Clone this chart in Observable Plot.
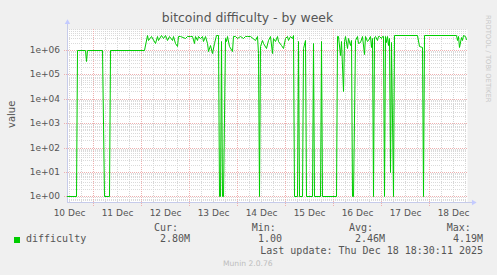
<!DOCTYPE html>
<html><head><meta charset="utf-8">
<script src="https://cdn.jsdelivr.net/npm/d3@7"></script>
<script src="https://cdn.jsdelivr.net/npm/@observablehq/plot@0.6"></script>
<style>
html,body{margin:0;padding:0;background:#f0f0f0;}
#chart{position:relative;width:497px;height:275px;background:#f0f0f0;overflow:hidden;}
#chart svg{position:absolute;left:0;top:0;}
.t{position:absolute;white-space:pre;margin:0;padding:0;}
.sans{font-family:"DejaVu Sans",sans-serif;}
.mono{font-family:"DejaVu Sans Mono",monospace;font-size:10px;line-height:10px;color:#555;}
</style></head><body><div id="chart"></div>
<script>
// hours since 10 Dec 00:00
const hours = [
 11,15.5,16,20,20.5,21,28.5,29.5,32,32.5,49.5,51,
 51.7,52.8,55,55.8,56.7,57.8,59.2,60,60.8,62,63.3,64.2,65,65.8,66.7,67.5,70,70.8,72.5,73.3,74.5,75.2,75.8,76.7,77.5,78.3,79.2,80,80.8,81.7,82.5,83.3,84.5,85.5,86.5,
 87,87.5,88.2,88.7,89.2,89.8,90.5,91.2,92.2,93.3,94.2,95,95.8,97.5,99.2,100,100.8,102.5,105,105.8,106.7,107.2,107.7,108.3,109.2,110.5,111.7,112.5,113.3,114.2,115,115.8,116.7,117.8,118.8,120,120.8,121.7,122.5,123.3,124.2,124.7,
 126,126.5,127,128.4,129,130,130.5,133.3,133.8,134.3,137.5,138,138.5,145.5,
 146,146.6,147.3,148.1,148.8,149.5,150.2,150.8,151.6,152.3,152.8,153.3,154.2,
 154.8,155.8,156.7,157.5,158.3,159.5,160.2,160.8,161.7,162.3,162.9,163.4,164,164.6,
 165.2,165.85,166.5,167.2,167.85,168.5,168.8,169.3,169.9,
 170.5,171,171.6,172.2,172.7,173.2,173.8,174.6,
 185.8,186.8,188.3,188.8,189.5,
 205.4,206.2,206.7,207.2,207.8,208.3,209.2,209.8,210.3
];
const difficulty = [
 1,1,1.02e6,1.02e6,3.5e5,1.02e6,1.02e6,1,1,1.02e6,1.02e6,4.1e6,
 2.65e6,3.9e6,1.94e6,3.6e6,2.65e6,4.0e6,3.1e6,4.0e6,2.65e6,3.9e6,2.65e6,3.9e6,1.94e6,1.41e6,3.6e6,3.9e6,3.1e6,3.9e6,3.6e6,3.9e6,1.94e6,3.6e6,2.65e6,3.9e6,3.1e6,3.9e6,2.27e6,3.6e6,1.94e6,8.8e5,1.65e6,7.5e5,1.94e6,4.19e6,4.0e6,
 1,1,2.27e6,1,1,3.1e6,2.27e6,3.6e6,1.41e6,8.8e5,3.6e6,3.9e6,3.1e6,3.9e6,3.1e6,3.9e6,3.6e6,3.9e6,2.65e6,3.9e6,7.5e5,1,1.5e6,2.65e6,1.94e6,1.21e6,2.65e6,3.9e6,7.5e5,3.1e6,2.27e6,3.6e6,2.27e6,1.65e6,1.21e6,3.1e6,3.9e6,2.65e6,3.9e6,3.1e6,4.19e6,1,
 1,2.4e6,1,1,1.2e6,2.6e6,1,1,1.94e6,1,1,2.27e6,1,1,
 3.6e6,3.9e6,6.0e5,2.27e6,2.0e4,2.27e6,3.6e6,1.2e6,3.1e6,1.65e6,2.65e6,1,1,
 2.6e6,3.6e6,1.94e6,2.2e6,3.6e6,6.6e5,3.6e6,2.27e6,2.6e6,3.6e6,1.37e6,3.1e6,1,3.4e6,
 3.8e6,2.6e6,3.9e6,3.6e6,3.0e6,3.9e6,3.6e6,1,3.8e6,
 2.2e6,3.8e6,1.6e6,3.0e6,10,2.2e6,1,4.19e6,
 4.19e6,1.4e6,1.3e6,1,4.19e6,
 4.19e6,2.6e6,3.6e6,1.3e6,3.4e6,2.6e6,4.0e6,3.6e6,2.8e6
];
const dayLabels = ["10 Dec","11 Dec","12 Dec","13 Dec","14 Dec","15 Dec","16 Dec","17 Dec","18 Dec"];
const dayLabelHours = [12,36,60,84,108,132,156,180,204];
const midnightHours = [24,48,72,96,120,144,168,192];
const decades = [1,10,100,1e3,1e4,1e5,1e6];
const yTickLabels = ["1e+00","1e+01","1e+02","1e+03","1e+04","1e+05","1e+06"];
const statLabels = ["Cur:","Min:","Avg:","Max:"];
const statValues = ["2.80M","1.00","2.46M","4.19M"];
const seriesName = "difficulty";
const titleText = "bitcoind difficulty - by week";
const lastUpdate = "Last update: Thu Dec 18 18:30:11 2025";
const footer = "Munin 2.0.76";
const watermark = "RRDTOOL / TOBI OETIKER";
const yLabel = "value";

const xDomain = [11, 211];
const yDomain = [Math.pow(10, -0.234), Math.pow(10, 6.861)];
const data = hours.map((h, i) => ({h, v: difficulty[i]}));

const sixHour = d3.range(12, 211, 6);
const minorY = [];
for (let k = -1; k <= 6; k++) for (let m = 2; m <= 9; m++) {
  const val = m * Math.pow(10, k);
  if (val > yDomain[0] && val < yDomain[1]) minorY.push(val);
}
const belowAxis = Math.pow(10, Math.log10(yDomain[0]) - 0.15);
const aboveTop = Math.pow(10, 7.148);

const plot = Plot.plot({
  width: 497, height: 275,
  marginLeft: 67, marginRight: 30, marginTop: 29, marginBottom: 73,
  style: {background: "transparent", fontFamily: "'DejaVu Sans'", fontSize: "9px", color: "#555", overflow: "visible"},
  x: {type: "linear", domain: xDomain, round: true},
  y: {type: "log", domain: yDomain, round: true},
  marks: [
    Plot.frame({fill: "white", stroke: null}),
    Plot.ruleY(minorY, {stroke: "#dadada", strokeDasharray: "1,1"}),
    Plot.ruleX(sixHour, {stroke: "#d6d6d6", strokeDasharray: "1,1"}),
    Plot.ruleY(decades, {x1: xDomain[0] - 1.5, x2: xDomain[1], stroke: "#eeb0b0", strokeDasharray: "1,1"}),
    Plot.ruleX(midnightHours, {y1: belowAxis, y2: yDomain[1], stroke: "#eeb0b0", strokeDasharray: "1,1"}),
    Plot.axisX(dayLabelHours, {tickFormat: d => dayLabels[dayLabelHours.indexOf(d)], tickSize: 0, tickPadding: 7.6, label: null, fill: "#555"}),
    Plot.axisY(decades, {tickFormat: d => yTickLabels[decades.indexOf(d)], tickSize: 0, tickPadding: 7.5, label: null, fill: "#555"}),
    Plot.ruleY([yDomain[0]], {x1: xDomain[0], x2: xDomain[1] + 2.5, stroke: "#c6cbea"}),
    Plot.ruleX([xDomain[0]], {y1: yDomain[0], y2: aboveTop, stroke: "#c6cbea"}),
    Plot.dot([0], {x: xDomain[1] + 2.8, y: yDomain[0], symbol: "triangle2", rotate: 90, r: 2.6, fill: "#c3caff", stroke: null}),
    Plot.dot([0], {x: xDomain[0], y: aboveTop, symbol: "triangle2", r: 2.6, fill: "#c3caff", stroke: null}),
    Plot.line(data, {x: "h", y: "v", stroke: "#00cc00", strokeWidth: 1})
  ]
});
const chart = document.getElementById("chart");
chart.appendChild(plot);

function addText(text, cls, left, top, extra) {
  const d = document.createElement("div");
  d.className = "t " + cls;
  d.textContent = text;
  d.style.left = left + "px";
  d.style.top = top + "px";
  Object.assign(d.style, extra || {});
  chart.appendChild(d);
  return d;
}
// title
addText(titleText, "sans", 0, 12.2, {width: "495px", textAlign: "center", fontSize: "12.4px", lineHeight: "12.4px", color: "#555"});
// y label
addText(yLabel, "sans", 6.5, 128.3, {fontSize: "10px", lineHeight: "10px", color: "#555", transformOrigin: "0 0", transform: "rotate(-90deg)"});
// watermark
addText(watermark, "sans", 490.8, 14.5, {fontSize: "6.8px", lineHeight: "6.8px", color: "#c8c8c8", transformOrigin: "0 0", transform: "rotate(90deg)"});
// legend
const sq = document.createElement("div");
Object.assign(sq.style, {position: "absolute", left: "14px", top: "237px", width: "6px", height: "6px", background: "#00cc00"});
chart.appendChild(sq);
addText(seriesName, "mono", 26, 234.1);
const labelLefts = [154, 251.7, 349, 446.7];
const valueRights = [190, 282, 385, 483];
statLabels.forEach((s, i) => addText(s, "mono", labelLefts[i], 222.8));
statValues.forEach((s, i) => addText(s, "mono", valueRights[i] - 6.02 * s.length, 234.1));
addText(lastUpdate, "mono", 483 - 6.02 * lastUpdate.length, 246.2);
addText(footer, "sans", 223, 259.8, {fontSize: "7.6px", lineHeight: "7.6px", color: "#bdbdbd"});
</script></body></html>
